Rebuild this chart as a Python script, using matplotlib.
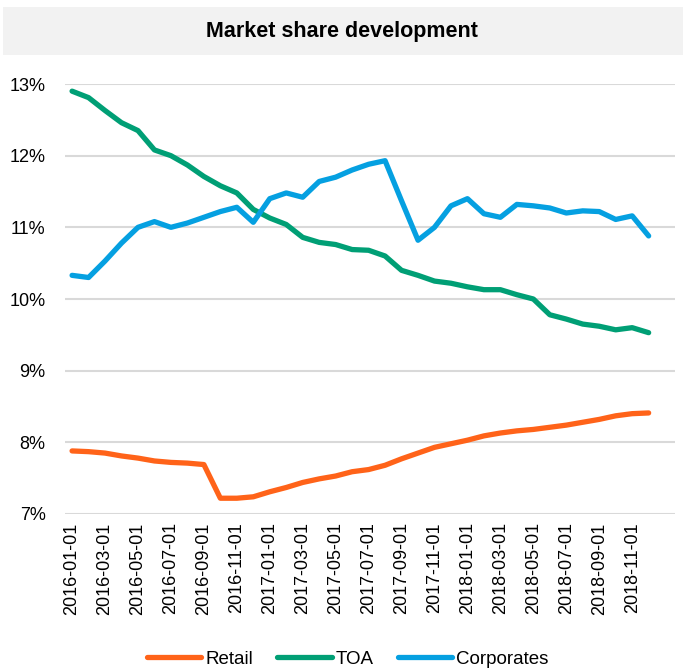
import matplotlib
matplotlib.use("Agg")
import matplotlib.pyplot as plt
from matplotlib.patches import Rectangle
from matplotlib.ticker import FuncFormatter
import numpy as np
import pandas as pd

plt.rcParams['font.family'] = ['Liberation Sans', 'DejaVu Sans']

# Monthly categories, Jan 2016 - Dec 2018
months = pd.date_range('2016-01-01', periods=36, freq='MS').strftime('%Y-%m-%d').tolist()

# Market share in %
retail = [7.88, 7.87, 7.85, 7.81, 7.78, 7.74, 7.72, 7.71, 7.69, 7.22, 7.22, 7.24,
          7.31, 7.37, 7.44, 7.49, 7.53, 7.59, 7.62, 7.68, 7.77, 7.85, 7.93, 7.98,
          8.03, 8.09, 8.13, 8.16, 8.18, 8.21, 8.24, 8.28, 8.32, 8.37, 8.40, 8.41]
toa = [12.90, 12.81, 12.63, 12.46, 12.35, 12.08, 12.00, 11.87, 11.71, 11.58, 11.48, 11.25,
       11.13, 11.04, 10.86, 10.79, 10.76, 10.69, 10.68, 10.60, 10.40, 10.33, 10.25, 10.22,
       10.17, 10.13, 10.13, 10.06, 10.00, 9.78, 9.72, 9.65, 9.62, 9.57, 9.60, 9.53]
corporates = [10.33, 10.30, 10.53, 10.78, 11.00, 11.08, 11.00, 11.06, 11.14, 11.22, 11.28, 11.07,
              11.40, 11.48, 11.42, 11.64, 11.70, 11.80, 11.88, 11.93, 11.37, 10.82, 11.00, 11.30,
              11.40, 11.19, 11.14, 11.32, 11.30, 11.27, 11.20, 11.23, 11.22, 11.11, 11.16, 10.88]

series = [("Retail", retail, "#ff6319"),
          ("TOA", toa, "#009f75"),
          ("Corporates", corporates, "#05a0e1")]

W, H = 683, 668
fig = plt.figure(figsize=(W / 100, H / 100), dpi=100)

# grey title band
fig.patches.append(Rectangle((3 / W, 1 - 55 / H), 1 - 3 / W, 48 / H,
                             transform=fig.transFigure, facecolor="#f2f2f2",
                             edgecolor="none", zorder=0))
fig.text(0.5, 1 - 31 / H, "Market share development", ha="center", va="center",
         fontsize=15.5, fontweight="bold")

ax = fig.add_axes([65 / W, 1 - 514 / H, 610 / W, 430 / H])
x = np.arange(len(months))
for name, vals, col in series:
    ax.plot(x, vals, color=col, lw=3.8, label=name, solid_capstyle="round",
            solid_joinstyle="round")

ax.set_ylim(7, 13)
ax.set_yticks(np.arange(7, 14, 1))
ax.yaxis.set_major_formatter(FuncFormatter(lambda v, p: f"{v:.0f}%"))
ax.set_xlim(-0.43, 36.6)
ax.set_xticks(x[::2])
ax.set_xticklabels(months[::2], rotation=90, fontsize=13)
ax.tick_params(axis="y", labelsize=13, length=0, pad=14)
ax.tick_params(axis="x", length=0, pad=6)
ax.grid(axis="y", color="#d9d9d9", lw=1.5)
ax.set_axisbelow(True)
for s in ax.spines.values():
    s.set_visible(False)

fig.legend(loc="center", bbox_to_anchor=(0.509, 1 - 659 / H), ncol=3, frameon=False,
           fontsize=13.5, handlelength=2.9, handletextpad=0.2, columnspacing=1.3,
           borderaxespad=0)

fig.savefig("out.png", dpi=100)
